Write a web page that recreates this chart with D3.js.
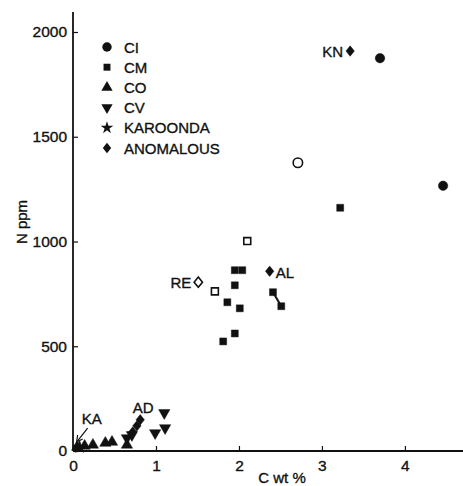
<!DOCTYPE html>
<html><head><meta charset="utf-8">
<script src="https://cdn.jsdelivr.net/npm/d3@7"></script>
<style>body{margin:0;background:#fff}svg{display:block}text{font-family:"Liberation Sans",Arial,sans-serif;fill:#111;stroke:#111;stroke-width:0.35px}</style>
</head><body><svg id="c" width="463" height="486"></svg>
<script>
// Data (C wt %, N ppm)
const ciC = [3.70, 4.46, 2.71];
const ciN = [1875, 1266, 1376];
const ciOpen = [false, false, true];

const cmC = [3.22, 2.10, 1.95, 2.04, 1.95, 1.71, 2.41, 2.51, 1.86, 2.01, 1.95, 1.81];
const cmN = [1161, 1002, 863, 863, 791, 762, 758, 691, 710, 681, 561, 523];
const cmOpen = [false, true, false, false, false, true, false, false, false, false, false, false];

const coC = [0.05, 0.14, 0.24, 0.39, 0.47, 0.65];
const coN = [19, 24, 29, 38, 43, 29];

const cvC = [0.65, 0.71, 0.99, 1.10, 1.11];
const cvN = [62, 77, 86, 182, 110];

const kaC = [0.08];
const kaN = [19];

const anC = [3.34, 2.37, 1.51, 0.81, 0.77, 0.72];
const anN = [1909, 858, 806, 149, 120, 91];
const anOpen = [false, false, true, false, false, false];

const pointLabels = ["KN", "AL", "RE", "AD", "KA"];
const legendLabels = ["CI", "CM", "CO", "CV", "KAROONDA", "ANOMALOUS"];
const xTicks = [0, 1, 2, 3, 4];
const yTicks = [0, 500, 1000, 1500, 2000];

const svg = d3.select("#c");
const x = d3.scaleLinear().domain([0, 4.7]).range([73, 463]);
const y = d3.scaleLinear().domain([0, 2000]).range([451, 32]);
const yTop = 12;

const g = svg.append("g");
// axes
const xAxis = d3.axisBottom(x).tickValues(xTicks).tickSize(-5).tickPadding(9).tickFormat(d3.format("d"));
const yAxis = d3.axisLeft(y).tickValues(yTicks).tickSize(-5).tickPadding(6).tickFormat(d3.format("d"));
const gx = g.append("g").attr("transform", `translate(0,${y(0)})`).call(xAxis);
const gy = g.append("g").attr("transform", `translate(${x(0)},0)`).call(yAxis);
[gx, gy].forEach(a => {
  a.select(".domain").remove();
  a.selectAll(".tick line").attr("stroke", "#111").attr("stroke-width", 1.2);
  a.selectAll(".tick text").attr("font-size", 15.5).attr("fill", "#111").style("font-family", "'Liberation Sans',Arial,sans-serif");
});
g.append("line").attr("x1", x(0)).attr("x2", 463).attr("y1", y(0)).attr("y2", y(0)).attr("stroke", "#111").attr("stroke-width", 1.8);
g.append("line").attr("x1", x(0)).attr("x2", x(0)).attr("y1", yTop).attr("y2", y(0)).attr("stroke", "#111").attr("stroke-width", 1.8);

svg.append("text").attr("x", 282).attr("y", 483).attr("text-anchor", "middle").attr("font-size", 15).text("C wt %");
svg.append("text").attr("transform", "translate(27,222) rotate(-90)").attr("text-anchor", "middle").attr("font-size", 15).text("N ppm");

const diamond = () => "M0,-5.2L4.2,0L0,5.2L-4.2,0Z";
const sym = {
  CI: d3.symbol().type(d3.symbolCircle).size(70),
  CM: d3.symbol().type(d3.symbolSquare).size(48),
  CO: d3.symbol().type(d3.symbolTriangle).size(55),
  CV: d3.symbol().type(d3.symbolTriangle).size(55),
  KA: d3.symbol().type(d3.symbolStar).size(50),
  AN: diamond
};
function plot(key, cs, ns, open, rot) {
  cs.forEach((c, i) => {
    const o = open && open[i];
    g.append("path").attr("d", sym[key]())
      .attr("transform", `translate(${x(c)},${y(ns[i])})${rot ? " rotate(180)" : ""}`)
      .attr("fill", o ? "#fff" : "#111").attr("stroke", "#111").attr("stroke-width", o ? 1.6 : 0.5);
  });
}
// connecting line between two CM points
g.append("line").attr("x1", x(cmC[6])).attr("y1", y(cmN[6])).attr("x2", x(cmC[7])).attr("y2", y(cmN[7])).attr("stroke", "#111").attr("stroke-width", 2);
plot("CI", ciC, ciN, ciOpen);
plot("CM", cmC, cmN, cmOpen);
plot("CO", coC, coN, null);
plot("CV", cvC, cvN, null, true);
plot("AN", anC, anN, anOpen);
plot("KA", kaC, kaN, null);

// point labels
const lab = (t, px, py, anchor) => svg.append("text").attr("x", px).attr("y", py).attr("text-anchor", anchor).attr("font-size", 15).attr("dominant-baseline", "central").text(t);
lab(pointLabels[0], x(anC[0]) - 7, y(anN[0]), "end");
lab(pointLabels[1], x(anC[1]) + 6, y(anN[1]) + 1, "start");
lab(pointLabels[2], x(anC[2]) - 7, y(anN[2]), "end");
lab(pointLabels[3], x(anC[3]) + 3, y(anN[3]) - 12, "middle");
lab(pointLabels[4], x(kaC[0]) + 12, y(kaN[0]) - 29, "middle");
// KA arrow
const ax1 = x(kaC[0]) + 8, ay1 = y(kaN[0]) - 19, ax2 = x(kaC[0]) - 3, ay2 = y(kaN[0]) - 5;
svg.append("line").attr("x1", ax1).attr("y1", ay1).attr("x2", ax2).attr("y2", ay2).attr("stroke", "#111").attr("stroke-width", 1.2);
svg.append("path").attr("d", d3.line()([[ax2 + 1, ay2 - 7], [ax2, ay2], [ax2 + 6, ay2 - 3]])).attr("fill", "none").attr("stroke", "#111").attr("stroke-width", 1.2);

// legend
const keys = ["CI", "CM", "CO", "CV", "KA", "AN"];
keys.forEach((k, i) => {
  const ly = 47 + i * 20.2;
  g.append("path").attr("d", sym[k]()).attr("transform", `translate(107,${ly})${k === "CV" ? " rotate(180)" : ""}`).attr("fill", "#111");
  svg.append("text").attr("x", 124).attr("y", ly).attr("dominant-baseline", "central").attr("font-size", 15).text(legendLabels[i]);
});
</script></body></html>
